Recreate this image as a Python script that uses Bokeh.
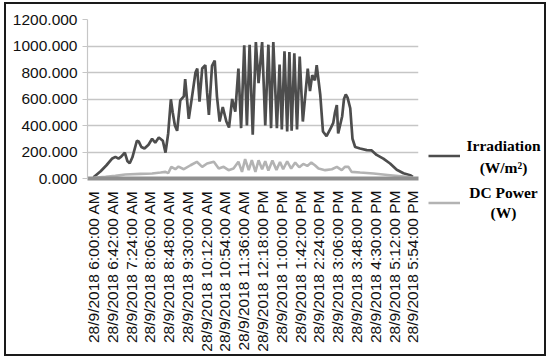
import math
from bokeh.plotting import figure
from bokeh.layouts import row
from bokeh.models import (Legend, LegendItem, Label, FixedTicker,
                          NumeralTickFormatter, Range1d)
from bokeh.embed import file_html
from bokeh.resources import INLINE

# ---- data ----
IRR_TIMES = ["6:00", "6:16", "6:29", "6:42", "6:49", "6:56", "7:02", "7:10", "7:16", "7:21",
             "7:27", "7:37", "7:41", "7:47", "7:54", "8:03", "8:11", "8:18", "8:26", "8:35",
             "8:41", "8:47", "8:53", "8:57", "9:02", "9:07", "9:14", "9:22", "9:25", "9:33",
             "9:40", "9:48", "9:52", "9:57", "10:03", "10:10", "10:14", "10:18", "10:25", "10:31",
             "10:36", "10:42", "10:49", "10:57", "11:03", "11:10", "11:17", "11:24", "11:30", "11:37",
             "11:43", "11:49", "11:56", "12:03", "12:09", "12:17", "12:24", "12:31", "12:37", "12:42",
             "12:50", "12:56", "13:01", "13:07", "13:13", "13:18", "13:23", "13:29", "13:35", "13:41",
             "13:48", "13:53", "13:59", "14:04", "14:09", "14:15", "14:19", "14:27", "14:33", "14:41",
             "14:49", "14:56", "15:00", "15:04", "15:07", "15:16", "15:20", "15:24", "15:28", "15:34",
             "15:39", "15:45", "15:56", "16:11", "16:22", "16:33", "16:48", "17:03", "17:18", "17:33",
             "17:48", "17:54"]
IRRADIATION = [10, 55, 100, 151, 163, 150, 165, 196, 130, 115,
               160, 285, 280, 238, 226, 255, 300, 270, 310, 285,
               195, 340, 598, 500, 400, 360, 590, 620, 750, 450,
               610, 800, 830, 580, 830, 855, 650, 480, 850, 890,
               620, 430, 540, 430, 385, 600, 505, 830, 380, 1005,
               400, 1010, 330, 1030, 720, 1030, 400, 1010, 380, 1030,
               380, 860, 370, 960, 355, 955, 360, 945, 370, 920,
               430, 610, 830, 660, 780, 740, 855, 630, 355, 320,
               370, 420, 500, 555, 340, 470, 600, 635, 610, 530,
               300, 238, 226, 214, 212, 178, 150, 113, 66, 40,
               25, 12]

PWR_TIMES = ["6:00", "6:27", "6:49", "7:11", "7:45", "8:11", "8:30", "8:41", "8:47", "8:54",
             "9:03", "9:10", "9:22", "9:37", "9:51", "10:03", "10:14", "10:29", "10:40", "10:51",
             "11:02", "11:13", "11:24", "11:32", "11:39", "11:47", "11:54", "12:02", "12:09", "12:17",
             "12:24", "12:31", "12:40", "12:49", "12:57", "13:04", "13:13", "13:22", "13:31", "13:40",
             "13:49", "13:58", "14:07", "14:15", "14:23", "14:38", "14:53", "15:04", "15:15", "15:22",
             "15:30", "15:37", "15:56", "16:26", "17:03", "17:40", "17:54"]
DC_POWER = [5, 12, 20, 30, 35, 38, 45, 50, 40, 88,
            70, 90, 70, 100, 126, 88, 113, 126, 75, 88,
            63, 75, 126, 50, 146, 63, 138, 50, 138, 70,
            130, 60, 135, 65, 125, 70, 130, 75, 120, 85,
            110, 95, 120, 100, 75, 63, 70, 88, 63, 88,
            88, 50, 45, 38, 25, 12, 5]

TICK_LABELS = ["28/9/2018 6:00:00 AM", "28/9/2018 6:42:00 AM", "28/9/2018 7:24:00 AM",
               "28/9/2018 8:06:00 AM", "28/9/2018 8:48:00 AM", "28/9/2018 9:30:00 AM",
               "28/9/2018 10:12:00 AM", "28/9/2018 10:54:00 AM", "28/9/2018 11:36:00 AM",
               "28/9/2018 12:18:00 PM", "28/9/2018 1:00:00 PM", "28/9/2018 1:42:00 PM",
               "28/9/2018 2:24:00 PM", "28/9/2018 3:06:00 PM", "28/9/2018 3:48:00 PM",
               "28/9/2018 4:30:00 PM", "28/9/2018 5:12:00 PM", "28/9/2018 5:54:00 PM"]
Y_TICKS = [0, 200, 400, 600, 800, 1000, 1200]
SERIES_NAMES = ["Irradiation", "DC Power"]
SERIES_UNITS = ["(W/m²)", "(W)"]
IRR_COLOR = "#4d4d4d"
PWR_COLOR = "#b3b3b3"


def hm_to_min(s):
    h, m = s.split(":")
    return (int(h) - 6) * 60 + int(m)


def label_to_min(lab):
    _, t, ampm = lab.split(" ")
    h, m, _s = [int(v) for v in t.split(":")]
    if ampm == "PM" and h != 12:
        h += 12
    return (h - 6) * 60 + m


irr_x = [hm_to_min(t) for t in IRR_TIMES]
pwr_x = [hm_to_min(t) for t in PWR_TIMES]
tick_pos = [label_to_min(l) for l in TICK_LABELS]

SANS = "Liberation Sans"
SERIF = "Liberation Serif"

TOTAL_H = 347

p = figure(frame_width=331, frame_height=159,
           min_border_left=81, min_border_right=8,
           min_border_top=15, min_border_bottom=TOTAL_H - 15 - 159,
           x_range=Range1d(-13.4, 726.6), y_range=Range1d(0, 1200),
           output_backend="svg", toolbar_location=None,
           background_fill_color="white", border_fill_color="white")
p.outline_line_color = None

p.line(irr_x, IRRADIATION, line_color=IRR_COLOR, line_width=2.7)
p.line(pwr_x, DC_POWER, line_color=PWR_COLOR, line_width=2.6)

# grid
p.xgrid.visible = False
p.ygrid.ticker = FixedTicker(ticks=Y_TICKS)
p.ygrid.grid_line_color = "#c6c6c6"
p.ygrid.grid_line_width = 1.5

# y axis
p.yaxis.ticker = FixedTicker(ticks=Y_TICKS)
p.yaxis.formatter = NumeralTickFormatter(format="0.000")
p.yaxis.axis_line_color = "#c6c6c6"
p.yaxis.axis_line_width = 1.2
p.yaxis.major_tick_line_color = "#c6c6c6"
p.yaxis.major_tick_out = 5
p.yaxis.major_tick_in = 0
p.yaxis.minor_tick_line_color = None
p.yaxis.major_label_text_font = SANS
p.yaxis.major_label_text_font_size = "15.5px"
p.yaxis.major_label_text_color = "#111111"
p.yaxis.major_label_standoff = 5

# x axis
p.xaxis.ticker = FixedTicker(ticks=tick_pos)
p.xaxis.major_label_overrides = {tp: lab for tp, lab in zip(tick_pos, TICK_LABELS)}
p.xaxis.major_label_orientation = math.pi / 2
p.xaxis.axis_line_color = "#8f8f8f"
p.xaxis.axis_line_width = 4
p.xaxis.major_tick_line_color = None
p.xaxis.minor_tick_line_color = None
p.xaxis.major_label_text_font = SANS
p.xaxis.major_label_text_font_size = "15.5px"
p.xaxis.major_label_text_color = "#111111"
p.xaxis.major_label_standoff = 6

# legend panel (separate figure to the right of the chart)
lg = figure(width=118, height=TOTAL_H, x_range=Range1d(0, 1), y_range=Range1d(0, 1),
            x_axis_location=None, y_axis_location=None,
            min_border=0, output_backend="svg", toolbar_location=None,
            background_fill_color="white", border_fill_color="white")
lg.outline_line_color = None
lg.grid.visible = False
lg.frame_align = False
p.frame_align = False
NAN = float("nan")
r_irr = lg.line([NAN], [NAN], line_color=IRR_COLOR, line_width=2.7)
r_pwr = lg.line([NAN], [NAN], line_color=PWR_COLOR, line_width=2.6)

# legend glyphs (the two-line, centred texts are drawn as labels beside them)
legend = Legend(items=[LegendItem(label=" ", renderers=[r_irr]),
                       LegendItem(label=" ", renderers=[r_pwr])],
                location=(2, 130.5), orientation="vertical",
                glyph_width=32, glyph_height=37, label_height=37,
                label_standoff=6, spacing=10, padding=0, margin=0,
                border_line_color=None, background_fill_alpha=0,
                label_text_font_size="6px")
lg.add_layout(legend)

LEGEND_TEXT_Y = [206, 184, 159, 139]
texts = [SERIES_NAMES[0], SERIES_UNITS[0], SERIES_NAMES[1], SERIES_UNITS[1]]
for txt, yy in zip(texts, LEGEND_TEXT_Y):
    lg.add_layout(Label(x=77, y=yy, x_units="screen", y_units="screen", text=txt,
                        text_font=SERIF, text_font_style="bold", text_font_size="15.5px",
                        text_color="#000000", text_align="center", text_baseline="middle"))

layout = row(p, lg)
layout.styles = {"border": "2px solid #1a1a1a", "margin-left": "4px", "margin-top": "2px",
                 "background-color": "white"}

open("out.html", "w").write(file_html(layout, INLINE))
